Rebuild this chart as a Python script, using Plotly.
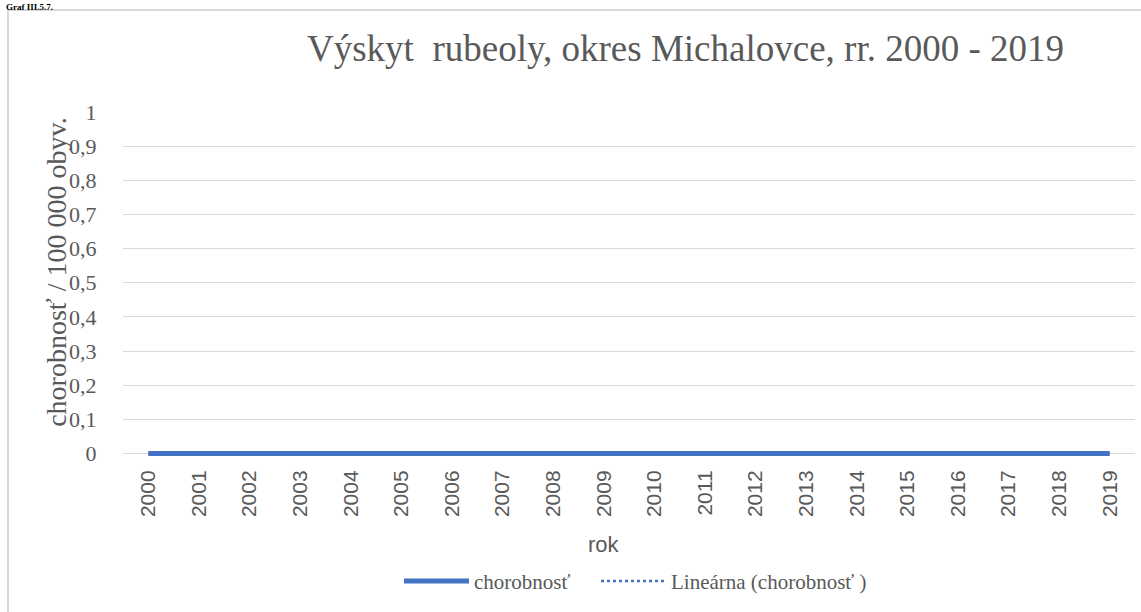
import numpy as np
import plotly.graph_objects as go

years = [str(y) for y in range(2000, 2020)]
chorobnost = [0, 0, 0, 0, 0, 0, 0, 0, 0, 0, 0, 0, 0, 0, 0, 0, 0, 0, 0, 0]
y_ticks = [0, 0.1, 0.2, 0.3, 0.4, 0.5, 0.6, 0.7, 0.8, 0.9, 1]

title_text = "Výskyt  rubeoly, okres Michalovce, rr. 2000 - 2019"
y_title = "chorobnosť / 100 000 obyv."
x_title = "rok"
series_name = "chorobnosť"
trend_name = "Lineárna (chorobnosť )"
caption = "Graf III.5.7."

# linear trend computed from the data
xi = np.arange(len(chorobnost))
slope, intercept = np.polyfit(xi, chorobnost, 1)
trend = list(slope * xi + intercept)

W, H = 1141, 612
Y0 = -0.01
L, R, T = 123, 6, 112
ph = 342 * (1 - Y0)
B = H - T - ph
pw = W - L - R

def px_x(p):
    return (p - L) / pw

def py(p):
    return (H - B - p) / ph

grey = "#595959"
blue = "#4472C4"
serif = "Liberation Serif, Times New Roman, serif"
sans = "Liberation Sans, Arial, sans-serif"

fig = go.Figure()
fig.add_trace(go.Scatter(
    x=years, y=chorobnost, mode="lines", name=series_name,
    line=dict(color=blue, width=5), legend="legend",
))
fig.add_trace(go.Scatter(
    x=years, y=trend, mode="lines", name=trend_name,
    line=dict(color=blue, width=2.5, dash="dot"), legend="legend2",
))

legend_common = dict(
    orientation="h", xanchor="left", yanchor="middle",
    font=dict(family=serif, size=21, color=grey),
    itemwidth=65, bgcolor="rgba(0,0,0,0)",
)

fig.update_layout(
    width=W, height=H,
    margin=dict(l=L, r=R, t=T, b=B, autoexpand=False),
    paper_bgcolor="white", plot_bgcolor="white",
    separators=", ",
    showlegend=True,
    legend=dict(legend_common, x=px_x(399), y=py(582)),
    legend2=dict(legend_common, x=px_x(596), y=py(582)),
    xaxis=dict(
        type="category", tickangle=-90, showgrid=False,
        range=[-0.5, len(years) - 0.5],
        tickfont=dict(family=sans, size=21, color=grey),
        ticks="outside", ticklen=4, tickcolor="rgba(0,0,0,0)",
        showline=False, zeroline=False,
    ),
    yaxis=dict(
        range=[Y0, 1], tickvals=y_ticks, showgrid=True,
        gridcolor="#d9d9d9", gridwidth=1, zeroline=False,
        tickfont=dict(family=serif, size=22, color=grey),
        ticks="outside", ticklen=21, tickcolor="rgba(0,0,0,0)",
        showline=False,
    ),
    annotations=[
        dict(text=title_text, xref="paper", yref="paper",
             x=px_x(685), y=py(48), xanchor="center", yanchor="middle",
             showarrow=False, font=dict(family=serif, size=37, color=grey)),
        dict(text=y_title, xref="paper", yref="paper", textangle=-90,
             x=px_x(57), y=py(272), xanchor="center", yanchor="middle",
             showarrow=False, font=dict(family=serif, size=28, color=grey)),
        dict(text=x_title, xref="paper", yref="paper",
             x=px_x(604), y=py(545), xanchor="center", yanchor="middle",
             showarrow=False, font=dict(family=sans, size=22, color=grey)),
        dict(text="<b>" + caption + "</b>", xref="paper", yref="paper",
             x=px_x(4), y=py(0), xanchor="left", yanchor="top",
             showarrow=False, font=dict(family=serif, size=9, color="black")),
    ],
    shapes=[
        dict(type="rect", xref="paper", yref="paper",
             x0=px_x(8), x1=px_x(1150), y0=py(10), y1=py(630),
             line=dict(color="#d9d9d9", width=2), fillcolor="rgba(0,0,0,0)",
             layer="above"),
    ],
)

fig.write_html("out.html", post_script="document.body.style.margin='0px';",
               config={"displayModeBar": False})
